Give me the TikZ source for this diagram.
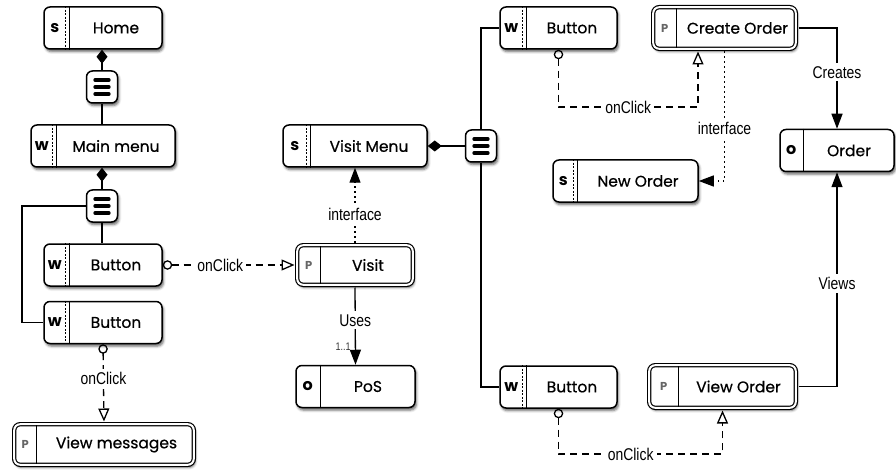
\documentclass[tikz,border=0pt]{standalone}
\usepackage{fontspec}
\setmainfont{Liberation Sans}
\newfontfamily\geofont[FakeBold=0.6]{Poppins}
\newfontfamily\geotag{Poppins}
\newfontfamily\narrowfont[FakeStretch=0.82]{Liberation Sans}
\usetikzlibrary{arrows.meta,shadows.blur,calc}

\tikzset{
  boxshadow/.style={blur shadow={shadow xshift=1.4pt, shadow yshift=-2.6pt,
      shadow blur radius=2.4pt, shadow opacity=60}},
  uibase/.style={rectangle, rounded corners=6pt, fill=white, boxshadow, inner sep=0pt},
  single/.style={uibase, draw=black, line width=1.5pt},
  twin/.style={uibase, draw=black, line width=1.2pt, double=white, double distance=2pt},
  tagtext/.style={font=\geotag\bfseries\fontsize{16}{16}\selectfont, inner sep=0pt},
  ptag/.style={font=\geotag\bfseries\fontsize{11.5}{12}\selectfont, text=black!60, inner sep=0pt},
  boxtext/.style={font=\geofont\fontsize{15.5}{16}\selectfont, inner sep=0pt},
  lbl/.style={font=\narrowfont\fontsize{17}{17}\selectfont, fill=white, inner sep=3pt},
  mult/.style={font=\narrowfont\fontsize{11}{11}\selectfont, text=black!80, inner sep=1pt},
  menuicon/.style={rectangle, rounded corners=6pt, draw=black, line width=1.5pt, fill=white,
      boxshadow, minimum width=31pt, minimum height=32pt, inner sep=0pt,
      path picture={\foreach \dy in {-7pt,0pt,7pt}{
        \draw[line width=3.3pt, line cap=round]
          ([xshift=-7pt,yshift=\dy]path picture bounding box.center) --
          ([xshift=7pt,yshift=\dy]path picture bounding box.center);}}},
  conn/.style={line width=1.3pt, draw=black},
  owns/.style={conn, {Diamond[length=14pt,width=11pt]}-},
  click/.style={conn, dash pattern=on 7pt off 5pt,
      {Circle[open,length=9.5pt,width=9.5pt]}-{Triangle[open,length=13pt,width=11pt]},
      shorten >=2.1pt},
  iface/.style={conn, dash pattern=on 1.3pt off 3.7pt,
      -{Triangle[length=15pt,width=11pt]}, shorten <=2.1pt},
  assoc/.style={conn, -{Triangle[length=15pt,width=11pt]}, shorten <=2.1pt},
}

% screen / widget box: tag column split off by a dashed and a solid rule
\newcommand\screenbox[6]{% name, position, width, tag column, tag letter, caption
  \node[single, minimum width=#3pt, minimum height=42pt] (#1) at (#2) {};
  \draw[line width=1pt, dash pattern=on 2pt off 1.5pt]
    ([xshift=#4pt-3.5pt]#1.north west) -- ([xshift=#4pt-3.5pt]#1.south west);
  \draw[line width=1pt] ([xshift=#4pt]#1.north west) -- ([xshift=#4pt]#1.south west);
  \node[tagtext] (#1-tag) at ([xshift=#4pt/2-1.5pt]#1.west) {#5};
  \node[boxtext] (#1-text) at ([xshift=#4pt/2]#1.center) {#6};
}
% page box: double outline, grey P tag
\newcommand\pagebox[6]{% name, position, width, height, tag column, caption
  \node[twin, minimum width=#3pt-4.4pt, minimum height=#4pt-4.4pt] (#1) at (#2) {};
  \draw[line width=1.1pt, shorten <=1.6pt, shorten >=1.6pt]
    ([xshift=#5pt-2.2pt]#1.north west) -- ([xshift=#5pt-2.2pt]#1.south west);
  \node[ptag] (#1-tag) at ([xshift=#5pt/2-1pt]#1.west) {P};
  \node[boxtext] (#1-text) at ([xshift=#5pt/2]#1.center) {#6};
}
% object box: plain outline, o tag
\newcommand\objbox[5]{% name, position, width, tag column, caption
  \node[single, minimum width=#3pt, minimum height=42pt] (#1) at (#2) {};
  \draw[line width=1pt] ([xshift=#4pt]#1.north west) -- ([xshift=#4pt]#1.south west);
  \node[tagtext] (#1-tag) at ([xshift=#4pt/2]#1.west) {o};
  \node[boxtext] (#1-text) at ([xshift=#4pt/2]#1.center) {#5};
}

\begin{document}
\begin{tikzpicture}[x=1pt,y=-1pt]
\useasboundingbox (0,0) rectangle (896,473);

% boxes
\screenbox{home}{103,28}{118}{26}{s}{Home}
\screenbox{mainmenu}{103,146}{144}{26}{w}{Main menu}
\screenbox{btnA}{103,265}{118}{26}{w}{Button}
\screenbox{btnB}{103,322.5}{118}{26}{w}{Button}
\pagebox{viewmsg}{104,444.5}{184}{45}{25}{View messages}
\screenbox{visitmenu}{355,146}{144}{28}{s}{Visit Menu}
\pagebox{visit}{355,265}{120}{44}{26}{Visit}
\objbox{pos}{355.5,386.5}{119}{25}{PoS}
\screenbox{btnC}{558.5,28}{117}{27}{w}{Button}
\screenbox{btnD}{558.5,387}{117}{27}{w}{Button}
\pagebox{createorder}{724.5,28}{147}{46}{26}{Create Order}
\screenbox{neworder}{625.5,181}{145}{25}{s}{New Order}
\objbox{order}{837,150.5}{114}{24}{Order}
\pagebox{vieworder}{722.5,386.5}{151}{47}{32}{View Order}

% menu containers
\node[menuicon] (menuA) at (102,87) {};
\node[menuicon] (menuB) at (102,206) {};
\node[menuicon] (menuC) at (481,146) {};

% containment
\draw[owns] (home.south -| menuA) -- (menuA.north);
\draw[conn] (menuA.south) -- (menuA.south |- mainmenu.north);
\draw[owns] (mainmenu.south -| menuB) -- (menuB.north);
\draw[conn] (menuB.south) -- (menuB.south |- btnA.north);
\coordinate (rail) at (22,0);
\draw[conn] (menuB.west) -| (rail |- btnB.west) -- (btnB.west);
\draw[owns] (visitmenu.east) -- (menuC.west);
\draw[conn] (menuC.north) |- (btnC.west);
\draw[conn] (menuC.south) |- (btnD.west);

% events
\draw[click] (btnA.east) -- node[lbl, pos=0.43] {onClick} (visit.west);
\draw[click] (btnB.south) -- node[lbl, pos=0.43] {onClick} (viewmsg.north);
\coordinate (topLevel) at (0,107);
\coordinate (coIn) at (698,0);
\draw[click] (btnC.south) -- (btnC.south |- topLevel)
  -- node[lbl] {onClick} (coIn |- topLevel) -- (coIn |- createorder.south);
\coordinate (botLevel) at (0,454);
\draw[click] (btnD.south) -- (btnD.south |- botLevel)
  -- node[lbl, pos=0.44] {onClick} (vieworder.south |- botLevel) -- (vieworder.south);

% interfaces
\draw[iface] (visit.north) -- node[lbl, pos=0.39] {interface} (visitmenu.south);
\draw[iface] (createorder.south) |- node[lbl, pos=0.3] {interface} (neworder.east);

% associations
\draw[assoc] (visit.south) -- node[lbl, pos=0.44] {Uses}
  node[mult, pos=0.77, left=3pt] {1..1} (pos.north);
\draw[assoc] (createorder.east) -| node[lbl, pos=0.72] {Creates} (order.north);
\draw[assoc] (vieworder.east) -| node[lbl, pos=0.74] {Views} (order.south);
\end{tikzpicture}
\end{document}
